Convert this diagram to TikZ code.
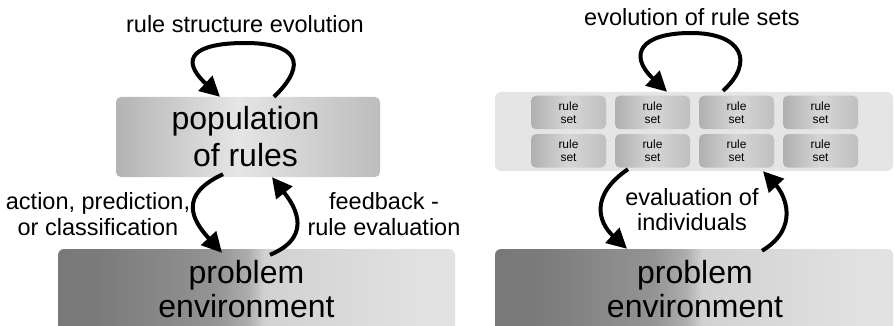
\documentclass[tikz,border=0pt]{standalone}
\usepackage{fontspec}
\setmainfont{Liberation Sans}
\usetikzlibrary{arrows.meta}

% grey levels used by the shadings
\definecolor{gA}{gray}{0.45}
\definecolor{gB}{gray}{0.48}
\definecolor{gC}{gray}{0.58}
\definecolor{gD}{gray}{0.68}
\definecolor{gE}{gray}{0.82}
\definecolor{gF}{gray}{0.88}
\definecolor{gG}{gray}{0.92}
\definecolor{gH}{gray}{0.52}
\definecolor{gI}{gray}{0.84}
\definecolor{gJ}{gray}{0.90}
\definecolor{gK}{gray}{0.66}
\definecolor{gM}{gray}{0.74}
\definecolor{gN}{gray}{0.56}

% environment bar: dark on the left, light on the right
\pgfdeclarehorizontalshading{envshade}{100bp}{%
  color(0bp)=(gA); color(30bp)=(gB); color(45bp)=(gC);
  color(49bp)=(gD); color(51bp)=(gE); color(70bp)=(gF); color(100bp)=(gG)}
% population box: light middle, darker sides
\pgfdeclarehorizontalshading{popshade}{100bp}{%
  color(0bp)=(gH); color(20bp)=(gK); color(48bp)=(gJ); color(75bp)=(gM); color(100bp)=(gN)}
% small rule-set tiles
\pgfdeclarehorizontalshading{tileshade}{100bp}{%
  color(0bp)=(gA); color(20bp)=(gK); color(50bp)=(gI); color(78bp)=(gM); color(100bp)=(gB)}
% pale container for the rule sets
\pgfdeclarehorizontalshading{poolshade}{100bp}{%
  color(0bp)=(gI); color(8bp)=(gJ); color(100bp)=(gJ)}

\newcommand\twolines[2]{\begin{tabular}[t]{@{}c@{}}#1\\#2\end{tabular}}

\tikzset{
  flow/.style={line width=4pt, -{Triangle[length=20pt,width=20pt]}},
  lbl/.style={anchor=base, inner sep=0pt, font=\fontsize{23.5}{25.5}\selectfont},
  bigtxt/.style={anchor=base, inner sep=0pt, font=\fontsize{32}{#1}\selectfont},
  envbox/.style={shade, shading=envshade, rounded corners=6pt, inner sep=0pt,
    minimum height=90pt},
  popbox/.style={shade, shading=popshade, rounded corners=5pt, inner sep=0pt,
    minimum width=264pt, minimum height=80pt},
  poolbox/.style={shade, shading=poolshade, rounded corners=6pt, inner sep=0pt,
    minimum width=398pt, minimum height=79pt},
  tile/.style={shade, shading=tileshade, rounded corners=5pt, inner sep=0pt,
    minimum width=75pt, minimum height=33.5pt, align=center,
    font=\fontsize{12}{13}\selectfont},
}

\begin{document}
\begin{tikzpicture}[x=1pt,y=-1pt]
\useasboundingbox (0,0) rectangle (894,326);

% problem environment bars, running off the bottom edge
\begin{scope}
  \clip (0,0) rectangle (894,326);
  \node[envbox, minimum width=397pt] (env1) at (256.5,294) {};
  \node[envbox, minimum width=398pt] (env2) at (694,294) {};
\end{scope}

% left: population of rules
\node[popbox] (pop) at (248,137) {};
\node[bigtxt=36pt] (poptxt) at (245.5,130) {\twolines{population}{of rules}};
\node[bigtxt=34pt] (env1txt) at (246.5,283.5) {\twolines{problem}{environment}};

% right: container of rule sets
\node[poolbox] (pool) at (694,131.5) {};
\foreach \cx [count=\i] in {568.5,652.5,736.5,820.5}
  \foreach \cy [count=\j] in {112.5,150.8}
    \node[tile] (rs\j\i) at (\cx,\cy) {rule\\set};
\node[bigtxt=34pt] (env2txt) at (695,283) {\twolines{problem}{environment}};

% labels
\node[lbl] (lrse) at (245,33) {rule structure evolution};
\node[lbl] (lapc) at (98,209.5) {\twolines{action, prediction,}{or classification}};
\node[lbl] (lfre) at (384,209.5) {\twolines{feedback -}{rule evaluation}};
\node[lbl] (lers) at (692,26) {evolution of rule sets};
\node[lbl] (leoi) at (692,205) {\twolines{evaluation of}{individuals}};

% left connectors
\draw[flow] ([xshift=26pt]pop.north) .. controls (310,62) and (295,43) .. (245,43)
  .. controls (195,43) and (178,58) .. ([xshift=-28pt]pop.north);
\draw[flow] ([xshift=-25pt,yshift=3pt]pop.south) .. controls (178,195) and (192,220)
  .. ([xshift=-34.5pt,yshift=-4pt]env1.north);
\draw[flow] ([xshift=13.5pt,yshift=-6pt]env1.north) .. controls (318,235) and (290,200)
  .. ([xshift=24pt]pop.south);

% right connectors
\draw[flow] ([xshift=29pt,yshift=1pt]pool.north) .. controls (755,62) and (742,33) .. (691,33)
  .. controls (640,33) and (628,55) .. ([xshift=-27pt]pool.north);
\draw[flow] ([xshift=-66pt,yshift=2pt]pool.south) .. controls (590,195) and (598,222)
  .. ([xshift=-67pt]env2.north);
\draw[flow] ([xshift=68pt,yshift=-2pt]env2.north) .. controls (800,228) and (785,195)
  .. ([xshift=69pt]pool.south);
\end{tikzpicture}
\end{document}
